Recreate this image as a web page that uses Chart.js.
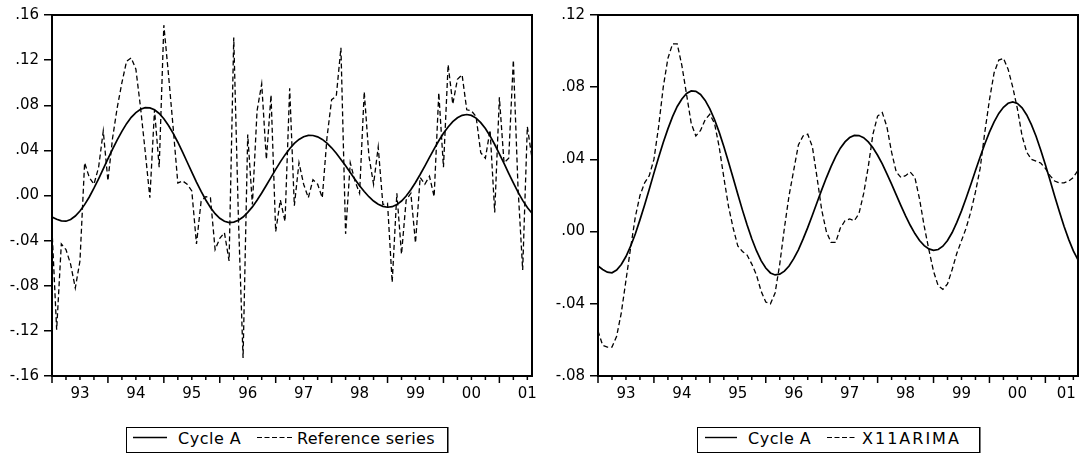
<!DOCTYPE html>
<html>
<head>
<meta charset="utf-8">
<script src="https://cdn.jsdelivr.net/npm/chart.js@4.4.1/dist/chart.umd.min.js"></script>
<style>
  html, body { margin:0; padding:0; background:#fff; width:1080px; height:464px; overflow:hidden; position:relative; font-family:"DejaVu Sans", sans-serif; color:#000; }
  canvas { position:absolute; top:0; }
  #leftChart { left:0; }
  #rightChart { left:540px; }
  .legend { position:absolute; top:427px; height:24px; border:1px solid #000; box-shadow:1px 0 0 #777; background:#fff; }
  .legend span { position:absolute; top:1px; font-size:16px; line-height:20px; white-space:nowrap; }
  .legend svg { position:absolute; top:8px; overflow:visible; }
</style>
</head>
<body>
<canvas id="leftChart" width="540" height="400"></canvas>
<canvas id="rightChart" width="540" height="400"></canvas>

<div class="legend" style="left:126px; width:320px;">
  <svg style="left:6px" width="34" height="3"><line x1="0" y1="1.5" x2="34" y2="1.5" stroke="#000" stroke-width="1.4"/></svg>
  <span style="left:51px; letter-spacing:0.5px">Cycle A</span>
  <svg style="left:130px" width="35" height="3"><line x1="0" y1="1.5" x2="35" y2="1.5" stroke="#000" stroke-width="1.2" stroke-dasharray="5,2.5"/></svg>
  <span style="left:170px; letter-spacing:0.3px">Reference series</span>
</div>
<div class="legend" style="left:697px; width:281px;">
  <svg style="left:7px" width="32" height="3"><line x1="0" y1="1.5" x2="32" y2="1.5" stroke="#000" stroke-width="1.4"/></svg>
  <span style="left:50px; letter-spacing:0.5px">Cycle A</span>
  <svg style="left:129px" width="30" height="3"><line x1="0" y1="1.5" x2="30" y2="1.5" stroke="#000" stroke-width="1.2" stroke-dasharray="5,2.5"/></svg>
  <span style="left:164px; letter-spacing:2px">X11ARIMA</span>
</div>

<script>
// Monthly observations, 1993M01 .. 2001M08 (104 months)
const firstYear = 1993;
const yearLabels = ['93','94','95','96','97','98','99','00','01'];

const cycleA = [
  -0.0190,-0.0210,-0.0225,-0.0228,-0.0213,-0.0182,-0.0138,-0.0081,-0.0013,0.0065,0.0148,0.0235,
  0.0324,0.0411,0.0494,0.0569,0.0637,0.0693,0.0735,0.0765,0.0779,0.0777,0.0760,0.0727,
  0.0680,0.0621,0.0551,0.0472,0.0386,0.0297,0.0207,0.0119,0.0036,-0.0040,-0.0106,-0.0161,
  -0.0202,-0.0229,-0.0240,-0.0236,-0.0219,-0.0191,-0.0150,-0.0101,-0.0042,0.0022,0.0091,0.0161,
  0.0231,0.0298,0.0360,0.0415,0.0462,0.0497,0.0521,0.0533,0.0532,0.0520,0.0497,0.0464,
  0.0423,0.0375,0.0320,0.0263,0.0203,0.0144,0.0087,0.0035,-0.0011,-0.0049,-0.0078,-0.0096,
  -0.0104,-0.0099,-0.0081,-0.0049,-0.0005,0.0051,0.0115,0.0186,0.0261,0.0338,0.0413,0.0485,
  0.0551,0.0608,0.0655,0.0689,0.0711,0.0718,0.0710,0.0686,0.0646,0.0593,0.0528,0.0452,
  0.0370,0.0284,0.0196,0.0111,0.0030,-0.0043,-0.0107,-0.0157
];

const referenceSeries = [
  -0.030,-0.119,-0.043,-0.048,-0.061,-0.082,-0.058,0.029,0.016,0.010,0.025,0.057,
  0.013,0.051,0.078,0.100,0.119,0.122,0.112,0.078,0.039,-0.002,0.076,0.025,
  0.151,0.107,0.060,0.011,0.013,0.010,0.004,-0.043,-0.005,-0.001,-0.002,-0.048,
  -0.038,-0.033,-0.058,0.140,-0.020,-0.144,0.054,-0.008,0.075,0.099,0.032,0.089,
  -0.032,-0.004,-0.023,0.095,-0.009,0.029,0.010,-0.002,0.014,0.010,-0.002,0.051,
  0.085,0.088,0.131,-0.034,0.029,0.013,0.002,0.092,0.035,0.010,0.043,-0.008,
  -0.007,-0.077,0.002,-0.052,-0.004,0.002,-0.042,0.016,0.010,0.017,-0.001,0.091,
  0.025,0.116,0.081,0.103,0.107,0.076,0.075,0.070,0.038,0.033,0.058,-0.015,
  0.087,0.029,0.033,0.120,0.007,-0.066,0.061,0.033
];

const x11arima = [
  -0.055,-0.063,-0.064,-0.064,-0.058,-0.045,-0.027,-0.009,0.008,0.020,0.027,0.031,
  0.040,0.058,0.080,0.096,0.104,0.104,0.092,0.076,0.060,0.053,0.056,0.062,
  0.065,0.060,0.047,0.030,0.014,0.002,-0.008,-0.011,-0.013,-0.018,-0.024,-0.033,
  -0.039,-0.040,-0.034,-0.018,0.002,0.020,0.034,0.048,0.053,0.054,0.047,0.030,
  0.012,0.000,-0.006,-0.006,0.002,0.006,0.007,0.006,0.010,0.021,0.036,0.054,
  0.064,0.066,0.058,0.044,0.033,0.030,0.031,0.033,0.030,0.018,0.003,-0.010,
  -0.022,-0.030,-0.032,-0.029,-0.021,-0.012,-0.005,0.002,0.011,0.022,0.035,0.055,
  0.073,0.088,0.095,0.096,0.090,0.080,0.068,0.053,0.044,0.040,0.039,0.038,
  0.035,0.031,0.028,0.027,0.027,0.028,0.030,0.034
];

const leftYRange = [-0.16, 0.16];
const rightYRange = [-0.08, 0.12];
const yStep = 0.04;

Chart.defaults.font.family = "'DejaVu Sans', sans-serif";
Chart.defaults.font.size = 15;
Chart.defaults.color = '#000';

function fmtTick(v) {
  if (Math.abs(v) < 1e-9) return '.00';
  return v.toFixed(2).replace('0.', '.');
}

const framePlugin = {
  id: 'frame',
  afterDraw(chart) {
    const { ctx, chartArea: a } = chart;
    const x = chart.scales.x;
    ctx.save();
    ctx.strokeStyle = '#000';
    ctx.lineWidth = 1.5;
    for (let m = 0; m <= x.max; m += 3) {
      const px = x.getPixelForValue(m);
      const len = (m % 12 === 0) ? 7 : 4;
      ctx.beginPath();
      ctx.moveTo(px, a.bottom);
      ctx.lineTo(px, a.bottom + len);
      ctx.stroke();
    }
    ctx.lineWidth = 2;
    ctx.strokeRect(a.left, a.top, a.right - a.left, a.bottom - a.top);
    ctx.restore();
  }
};

function toPoints(arr) { return arr.map((v, i) => ({ x: i, y: v })); }

function makeChart(id, otherSeries, otherName, yRange, yWidth, padRight, lastLabelMax) {
  const nMonths = cycleA.length;
  return new Chart(document.getElementById(id), {
    type: 'line',
    data: {
      datasets: [
        { label: 'Cycle A', data: toPoints(cycleA), borderColor: '#000', borderWidth: 1.7, pointRadius: 0, tension: 0, fill: false },
        { label: otherName, data: toPoints(otherSeries), borderColor: '#000', borderWidth: 1.3, borderDash: [5, 3], pointRadius: 0, tension: 0, fill: false }
      ]
    },
    options: {
      responsive: false,
      animation: false,
      events: [],
      layout: { padding: { top: 15, left: 0, right: padRight, bottom: 0 } },
      plugins: { legend: { display: false }, tooltip: { enabled: false } },
      scales: {
        x: {
          type: 'linear',
          min: 0,
          max: nMonths - 1,
          grid: { display: false, drawTicks: false },
          border: { display: false },
          ticks: {
            autoSkip: false, maxRotation: 0, padding: 9,
            callback: (v, i) => yearLabels[i]
          },
          afterBuildTicks: (scale) => {
            scale.ticks = yearLabels.map((_, k) => ({ value: Math.min(6 + 12 * k, lastLabelMax) }));
          },
          afterFit: (scale) => { scale.height = 24; scale.paddingLeft = 0; scale.paddingRight = 0; }
        },
        y: {
          min: yRange[0],
          max: yRange[1],
          ticks: { stepSize: yStep, padding: 5, callback: (v) => fmtTick(v) },
          grid: { drawOnChartArea: false, drawTicks: true, tickLength: 8, color: '#000', tickColor: '#000', lineWidth: 1.5 },
          border: { display: false },
          afterFit: (scale) => { scale.width = yWidth; scale.paddingTop = 0; scale.paddingBottom = 0; }
        }
      }
    },
    plugins: [framePlugin]
  });
}

makeChart('leftChart', referenceSeries, 'Reference series', leftYRange, 52, 8, 102);
makeChart('rightChart', x11arima, 'X11ARIMA', rightYRange, 58, 2, 100.5);
</script>
</body>
</html>
